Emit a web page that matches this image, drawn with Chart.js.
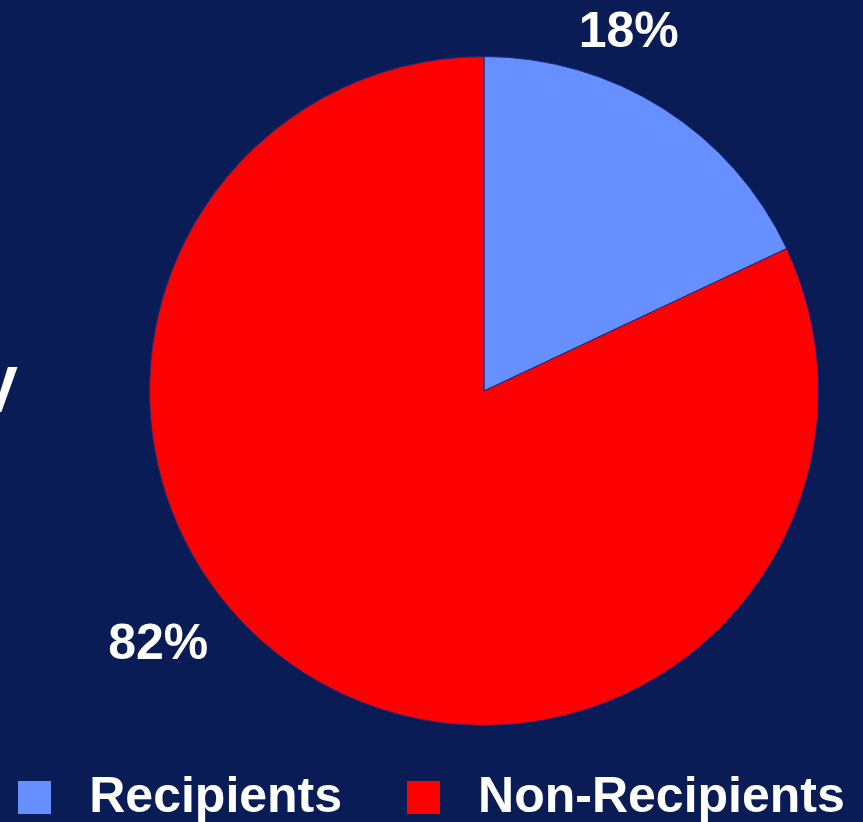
<!DOCTYPE html>
<html lang="en">
<head>
    <meta charset="UTF-8">
    <title>Recipients vs Non-Recipients</title>
    <script src="https://cdn.jsdelivr.net/npm/chart.js"></script>
    <style>
        body { margin: 0; background: #0a1c56; overflow: hidden; }
        #wrap { position: relative; width: 863px; height: 822px; }
        #legend {
            position: absolute; left: 0; right: 0; top: 766px;
            display: flex; justify-content: center; gap: 65px;
            font: bold 50px "Liberation Sans", Arial, sans-serif; color: #fff;
        }
        #legend span.item { display: flex; align-items: center; }
        #legend span.box { display: inline-block; width: 33px; height: 33px; margin-right: 38px; margin-top: 4px; }
    </style>
</head>
<body>
<div id="wrap">
    <canvas id="pieChart" width="863" height="822"></canvas>
    <div id="legend"></div>
</div>

<script>
    // données
    const categories = ['Recipients', 'Non-Recipients'];
    const shares = [18, 82];
    const sliceColors = ['#6690ff', '#ff0000'];

    // placement des étiquettes % (angle depuis le haut, sens horaire ; distance en rayons)
    const labelSpots = [
        { deg: 22, dist: 1.155 },
        { deg: 232, dist: 1.236 }
    ];

    const pctLabels = {
        id: 'pctLabels',
        afterDatasetsDraw(chart) {
            const ctx = chart.ctx;
            const arcs = chart.getDatasetMeta(0).data;
            ctx.save();
            ctx.fillStyle = '#fff';
            ctx.font = 'bold 50px "Liberation Sans", Arial, sans-serif';
            ctx.textAlign = 'center';
            ctx.textBaseline = 'middle';
            arcs.forEach((arc, i) => {
                const a = labelSpots[i].deg * Math.PI / 180;
                const r = arc.outerRadius * labelSpots[i].dist;
                ctx.fillText(shares[i] + '%', arc.x + r * Math.sin(a), arc.y - r * Math.cos(a));
            });
            // bout de texte coupé à gauche
            ctx.font = 'bold 64px "Liberation Sans", Arial, sans-serif';
            ctx.textAlign = 'right';
            ctx.textBaseline = 'alphabetic';
            ctx.fillText('V', 18, 412);
            ctx.restore();
        }
    };

    new Chart(document.getElementById('pieChart'), {
        type: 'pie',
        data: {
            labels: categories,
            datasets: [{
                data: shares,
                backgroundColor: sliceColors,
                borderColor: '#1a2a80',
                borderWidth: 1
            }]
        },
        options: {
            responsive: false,
            animation: false,
            layout: { padding: { top: 56, bottom: 96, left: 105, right: 0 } },
            plugins: {
                legend: { display: false },
                tooltip: { enabled: false }
            }
        },
        plugins: [pctLabels]
    });

    // légende HTML
    const legend = document.getElementById('legend');
    categories.forEach((c, i) => {
        const item = document.createElement('span');
        item.className = 'item';
        const box = document.createElement('span');
        box.className = 'box';
        box.style.background = sliceColors[i];
        item.appendChild(box);
        item.appendChild(document.createTextNode(c));
        legend.appendChild(item);
    });
</script>
</body>
</html>
